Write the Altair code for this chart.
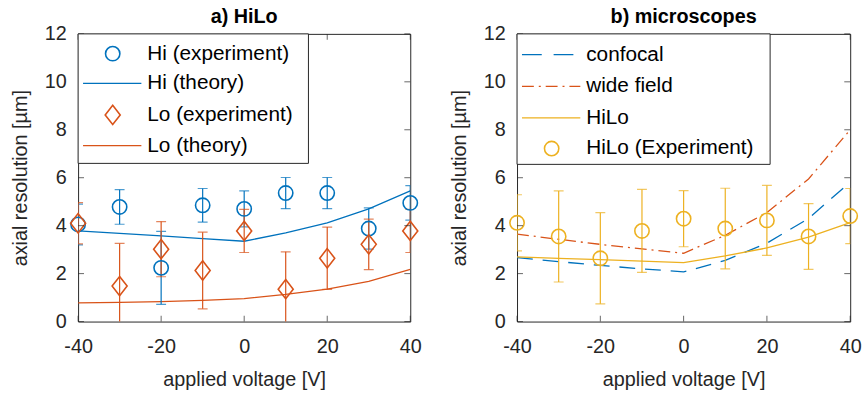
import altair as alt
import pandas as pd

# ---------------- data ----------------
volts = [-40, -30, -20, -10, 0, 10, 20, 30, 40]

hi_exp = [4.05, 4.78, 2.24, 4.85, 4.70, 5.36, 5.36, 3.88, 4.95]
hi_err = [0.85, 0.72, 1.52, 0.70, 0.75, 0.65, 0.65, 0.86, 0.72]
hi_theory = [3.78, 3.68, 3.57, 3.46, 3.35, 3.70, 4.12, 4.70, 5.45]

lo_exp = [4.10, 1.48, 3.02, 2.13, 3.78, 1.35, 2.64, 3.22, 3.78]
lo_err = [0.86, 1.78, 1.15, 1.60, 0.90, 1.56, 1.30, 1.05, 0.90]
lo_theory = [0.78, 0.80, 0.83, 0.88, 0.96, 1.13, 1.35, 1.68, 2.18]

hilo_exp = [4.12, 3.55, 2.64, 3.78, 4.29, 3.88, 4.22, 3.55, 4.40]
hilo_err = [1.17, 1.90, 1.90, 1.73, 1.17, 1.68, 1.46, 1.37, 1.15]
confocal = [2.67, 2.50, 2.34, 2.20, 2.07, 2.55, 3.27, 4.30, 5.82]
widefield = [3.65, 3.43, 3.22, 3.03, 2.85, 3.60, 4.55, 5.95, 8.00]
hilo_theory = [2.70, 2.64, 2.58, 2.52, 2.46, 2.74, 3.07, 3.52, 4.13]

x_ticks = [-40, -20, 0, 20, 40]
y_ticks = [0, 2, 4, 6, 8, 10, 12]

legend_a = ["Hi (experiment)", "Hi (theory)", "Lo (experiment)", "Lo (theory)"]
legend_b = ["confocal", "wide field", "HiLo", "HiLo (Experiment)"]

# ---------------- styles ----------------
BLUE = "#0072BD"
ORANGE = "#D95319"
YELLOW = "#EDB120"
AX = "#262626"
FONT = "Liberation Sans"
H = 291
DIAMOND = "M0,-1L0.78,0L0,1L-0.78,0Z"

df = pd.DataFrame({
    "v": volts,
    "hi": hi_exp, "hi_err": hi_err, "hi_th": hi_theory,
    "lo": lo_exp, "lo_err": lo_err, "lo_th": lo_theory,
    "hl": hilo_exp, "hl_err": hilo_err, "conf": confocal,
    "wf": widefield, "hl_th": hilo_theory,
})
for k in ["hi", "lo", "hl"]:
    df[k + "_lo"] = df[k] - df[k + "_err"]
    df[k + "_hi"] = df[k] + df[k + "_err"]

one = pd.DataFrame({"k": [0]})  # single row for legend decorations

xscale = alt.Scale(domain=[-40, 40], nice=False, zero=False, padding=0)
yscale = alt.Scale(domain=[0, 12], nice=False, padding=0)
x_axis = alt.Axis(values=x_ticks, title="applied voltage [V]",
                  labelExpr="'' + datum.value", labelFlush=False)
y_axis = alt.Axis(values=y_ticks, title="axial resolution [µm]",
                  labelExpr="'' + datum.value", labelFlush=False)


def X(field):
    return alt.X(field, type="quantitative", scale=xscale, axis=x_axis)


def Y(field):
    return alt.Y(field, type="quantitative", scale=yscale, axis=y_axis)


base = alt.Chart(df)


def frame_ticks():
    tdf_y = pd.DataFrame({"t": y_ticks})
    tdf_x = pd.DataFrame({"t": x_ticks})
    layers = []
    for xv, off in [(-40, 3), (40, -3)]:
        layers.append(alt.Chart(tdf_y).mark_tick(
            orient="horizontal", size=6, thickness=1, color=AX, xOffset=off
        ).encode(x=alt.X(datum=xv, type="quantitative", scale=xscale, axis=x_axis), y=Y("t")))
    for yv, off in [(0, -3), (12, 3)]:
        layers.append(alt.Chart(tdf_x).mark_tick(
            orient="vertical", size=6, thickness=1, color=AX, yOffset=off
        ).encode(x=X("t"), y=alt.Y(datum=yv, type="quantitative", scale=yscale, axis=y_axis)))
    return layers


def errbars(key, color):
    rule = base.mark_rule(color=color, strokeWidth=1.2, clip=True).encode(
        x=X("v"), y=Y(key + "_lo"), y2=alt.Y2(key + "_hi"))
    cap_lo = base.mark_tick(orient="horizontal", size=10, thickness=1.2,
                            color=color, clip=True).encode(x=X("v"), y=Y(key + "_lo"))
    cap_hi = base.mark_tick(orient="horizontal", size=10, thickness=1.2,
                            color=color, clip=True).encode(x=X("v"), y=Y(key + "_hi"))
    return [rule, cap_lo, cap_hi]


def legend(labels, entries, box_w, box_h, ys):
    layers = [alt.Chart(one).mark_rect(fill="white", stroke=AX, strokeWidth=1).encode(
        x=alt.value(0), x2=alt.value(box_w), y=alt.value(0), y2=alt.value(box_h))]
    for label, (kind, color, dash, shape, size), yy in zip(labels, entries, ys):
        if kind == "line":
            kw = dict(color=color, strokeWidth=1.3)
            if dash:
                kw["strokeDash"] = dash
            layers.append(alt.Chart(one).mark_rule(**kw).encode(
                x=alt.value(5), x2=alt.value(64), y=alt.value(yy)))
        else:
            layers.append(alt.Chart(one).mark_point(
                shape=shape, size=size, filled=False, color=color, strokeWidth=1.6, opacity=1
            ).encode(x=alt.value(35), y=alt.value(yy)))
        layers.append(alt.Chart(one).mark_text(
            align="left", baseline="middle", font=FONT, fontSize=21, color="black"
        ).encode(x=alt.value(70), y=alt.value(yy), text=alt.value(label)))
    return layers


# ---------------- panel a ----------------
pa = [
    base.mark_line(color=BLUE, strokeWidth=1.3, clip=True).encode(x=X("v"), y=Y("hi_th")),
    base.mark_line(color=ORANGE, strokeWidth=1.3, clip=True).encode(x=X("v"), y=Y("lo_th")),
]
pa += errbars("hi", BLUE)
pa += errbars("lo", ORANGE)
pa += [
    base.mark_point(shape="circle", size=210, filled=False, color=BLUE,
                    strokeWidth=1.6, opacity=1).encode(x=X("v"), y=Y("hi")),
    base.mark_point(shape=DIAMOND, size=380, filled=False, color=ORANGE,
                    strokeWidth=1.6, opacity=1).encode(x=X("v"), y=Y("lo")),
]
pa += frame_ticks()
pa += legend(legend_a, [
    ("point", BLUE, None, "circle", 210),
    ("line", BLUE, None, None, None),
    ("point", ORANGE, None, DIAMOND, 380),
    ("line", ORANGE, None, None, None),
], 233, 131, [20, 50, 82, 113])

panel_a = alt.layer(*pa).properties(
    width=336, height=H,
    title=alt.TitleParams("a) HiLo", fontSize=20, fontWeight="bold", font=FONT,
                          color="black", offset=-3))

# ---------------- panel b ----------------
pb = [
    base.mark_line(color=BLUE, strokeWidth=1.3, strokeDash=[16, 10], clip=True).encode(x=X("v"), y=Y("conf")),
    base.mark_line(color=ORANGE, strokeWidth=1.3, strokeDash=[12, 5, 2, 5], clip=True).encode(x=X("v"), y=Y("wf")),
    base.mark_line(color=YELLOW, strokeWidth=1.3, clip=True).encode(x=X("v"), y=Y("hl_th")),
]
pb += errbars("hl", YELLOW)
pb += [
    base.mark_point(shape="circle", size=210, filled=False, color=YELLOW,
                    strokeWidth=1.6, opacity=1).encode(x=X("v"), y=Y("hl")),
]
pb += frame_ticks()
pb += legend(legend_b, [
    ("line", BLUE, [20, 12], None, None),
    ("line", ORANGE, [12, 5, 2, 5], None, None),
    ("line", YELLOW, None, None, None),
    ("point", YELLOW, None, "circle", 210),
], 256, 132, [21, 53, 85, 116])

panel_b = alt.layer(*pb).properties(
    width=337, height=H,
    title=alt.TitleParams("b) microscopes", fontSize=20, fontWeight="bold", font=FONT,
                          color="black", offset=-3))

chart = alt.hconcat(panel_a, panel_b, spacing=27).properties(
    padding={"left": 10, "top": 4, "right": 5, "bottom": 0}
).configure_view(stroke=AX, strokeWidth=1).configure_axis(
    grid=False, domain=False, ticks=False,
    labelColor=AX, titleColor=AX,
).configure_axisX(
    labelFont=FONT, labelFontSize=20, labelPadding=15,
    titleFont=FONT, titleFontSize=20, titlePadding=14, titleFontWeight="normal",
).configure_axisY(
    labelFont=FONT, labelFontSize=20, labelPadding=12,
    titleFont=FONT, titleFontSize=20, titlePadding=14, titleFontWeight="normal",
)

chart.save("out.html", embed_options={"renderer": "svg", "actions": False})
